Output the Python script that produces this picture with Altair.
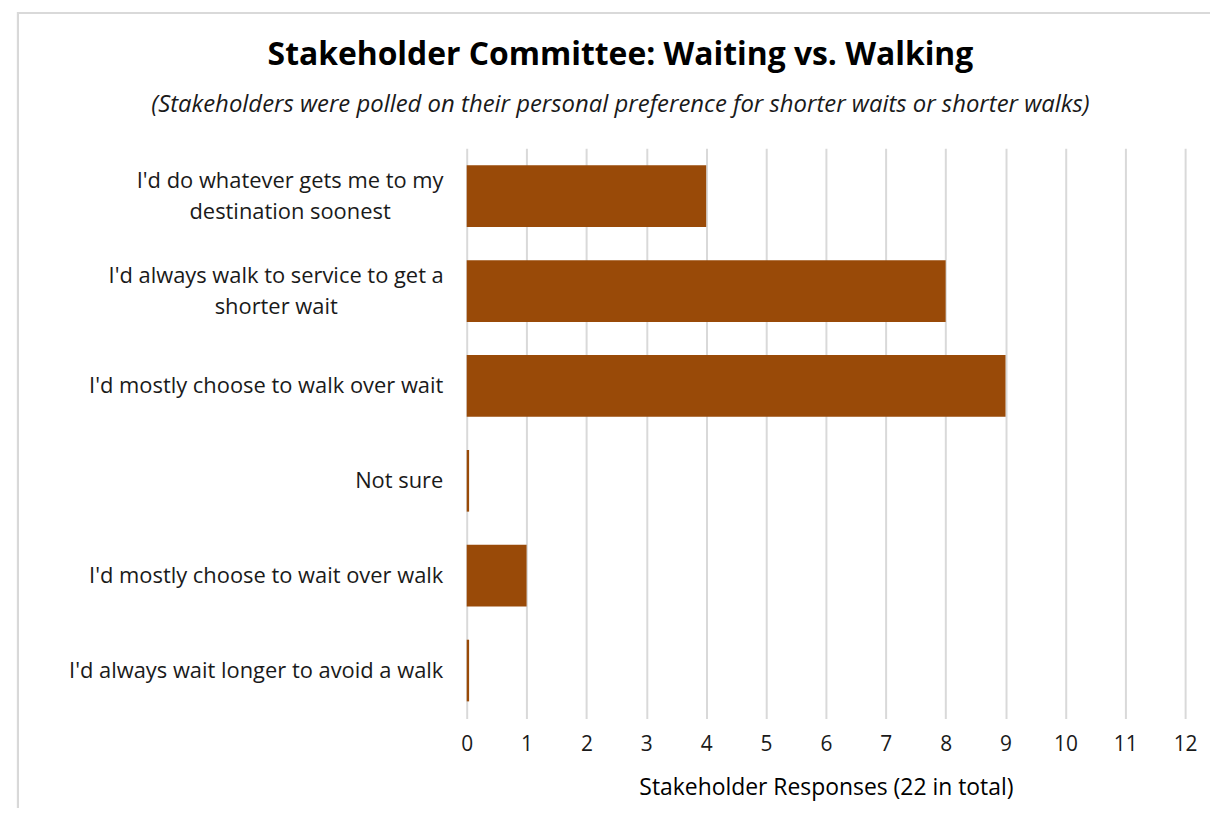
import altair as alt
import pandas as pd

categories = [
    "I'd do whatever gets me to my|destination soonest",
    "I'd always walk to service to get a|shorter wait",
    "I'd mostly choose to walk over wait",
    "Not sure",
    "I'd mostly choose to wait over walk",
    "I'd always wait longer to avoid a walk",
]
responses = [4, 8, 9, 0.04, 1, 0.04]
x_ticks = list(range(0, 13))

df = pd.DataFrame({"cat": categories, "val": responses})

FONT = "Open Sans"
TWO_LINE = "indexof(datum.value, '|') >= 0"

bars = alt.Chart(df).mark_bar(color="#994A08").encode(
    y=alt.Y(
        "cat:N",
        sort=categories,
        title=None,
        scale=alt.Scale(paddingInner=0.35, paddingOuter=0.18),
        axis=alt.Axis(
            labelExpr="split(datum.label, '|')",
            labelFontSize=22,
            labelFont=FONT,
            labelColor="#1a1a1a",
            labelPadding={
                "condition": [
                    {"test": "indexof(datum.value, 'whatever') >= 0", "value": 178},
                    {"test": "indexof(datum.value, 'service') >= 0", "value": 192},
                ],
                "value": 24,
            },
            labelAlign={"condition": {"test": TWO_LINE, "value": "center"}, "value": "right"},
            labelLimit=500,
            labelLineHeight=31,
            labelOffset={"condition": {"test": TWO_LINE, "value": -15}, "value": 0},
            ticks=False,
            domain=False,
            grid=False,
        ),
    ),
    x=alt.X(
        "val:Q",
        title="Stakeholder Responses (22 in total)",
        scale=alt.Scale(domain=[0, 12], nice=False),
        axis=alt.Axis(
            values=x_ticks,
            labelFontSize=21,
            labelFont=FONT,
            labelColor="#1a1a1a",
            labelPadding=15,
            labelFlush=False,
            titleFontSize=23,
            titleFont=FONT,
            titleFontWeight="normal",
            titleColor="#000000",
            titlePadding=22,
            ticks=False,
            domain=False,
            grid=True,
            gridColor="#d9d9d9",
            gridWidth=2,
        ),
    ),
)

border = alt.Chart(df).mark_rect(
    fill=None, stroke="#d9d9d9", strokeWidth=2, clip=False
).encode(
    x=alt.value(-451), x2=alt.value(760), y=alt.value(-136), y2=alt.value(700)
)

chart = alt.layer(border, bars).properties(
    width=722,
    height=573,
    padding={"left": 461, "top": 139, "right": 25, "bottom": 88},
    autosize=alt.AutoSizeParams(type="none"),
    title=alt.TitleParams(
        text="Stakeholder Committee: Waiting vs. Walking",
        subtitle="(Stakeholders were polled on their personal preference for shorter waits or shorter walks)",
        anchor="middle",
        frame="bounds",
        font=FONT,
        fontSize=32,
        fontWeight="bold",
        color="#000000",
        subtitleFont=FONT,
        subtitleFontSize=24,
        subtitleFontStyle="italic",
        subtitleColor="#1a1a1a",
        subtitlePadding=22,
        offset=-107,
    ),
).configure_view(stroke=None)

chart.save("out.html", embed_options={"renderer": "svg", "actions": False})
